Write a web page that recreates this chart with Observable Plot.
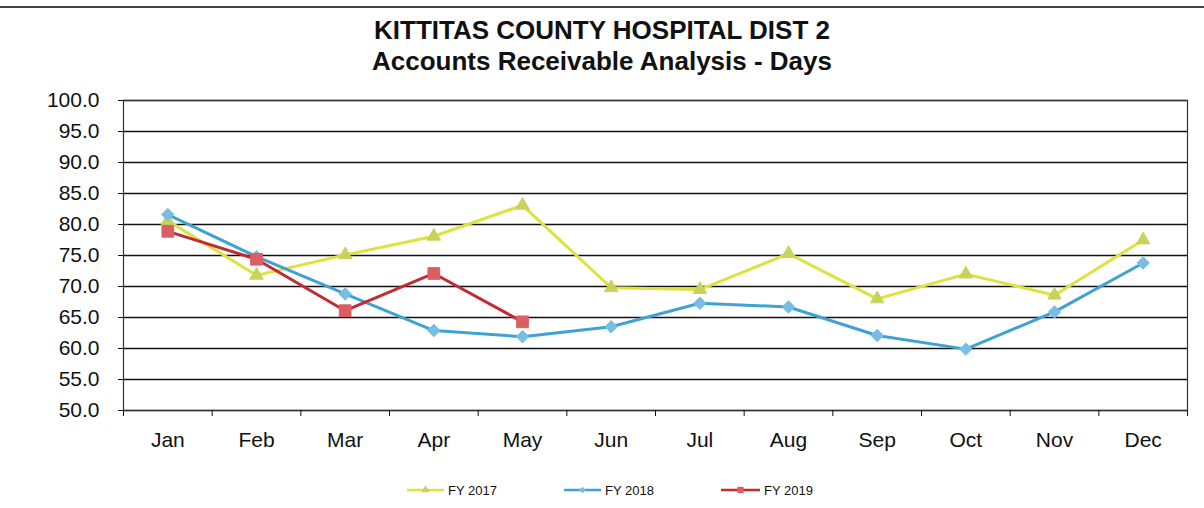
<!DOCTYPE html>
<html>
<head>
<meta charset="utf-8">
<script src="https://cdn.jsdelivr.net/npm/d3@7"></script>
<script src="https://cdn.jsdelivr.net/npm/@observablehq/plot@0.6"></script>
<style>
  html, body { margin: 0; padding: 0; background: #fff; }
  body { width: 1204px; height: 508px; position: relative; overflow: hidden; font-family: "Liberation Sans", Arial, sans-serif; color: #111; }
  #rule { position: absolute; left: 0; top: 6px; width: 1204px; height: 2px; background: #444; }
  #title { position: absolute; left: 0; top: 15px; width: 1204px; text-align: center; font-weight: bold; font-size: 26px; line-height: 31px; color: #111; }
  #chart { position: absolute; left: 0; top: 80px; }
  #legend { position: absolute; left: 0; top: 480px; width: 1204px; height: 20px; }
  .item { position: absolute; top: 0; height: 20px; display: flex; align-items: center; font-size: 13px; color: #111; }
  .item svg { margin-right: 4px; }
</style>
</head>
<body>
<div id="rule"></div>
<div id="title">KITTITAS COUNTY HOSPITAL DIST 2<br>Accounts Receivable Analysis - Days</div>
<div id="chart"></div>
<div id="legend"></div>
<script>
const months = ["Jan","Feb","Mar","Apr","May","Jun","Jul","Aug","Sep","Oct","Nov","Dec"];
const fy2017 = [80.6, 71.8, 75.1, 78.1, 83.1, 69.8, 69.5, 75.3, 68.0, 72.0, 68.6, 77.5];
const fy2018 = [81.6, 74.8, 68.8, 62.9, 61.9, 63.5, 67.3, 66.7, 62.1, 59.9, 65.9, 73.8];
const fy2019 = [78.9, 74.4, 66.1, 72.1, 64.3];
const seriesNames = ["FY 2017", "FY 2018", "FY 2019"];
const yTicks = [50, 55, 60, 65, 70, 75, 80, 85, 90, 95, 100];

const styles = {
  "FY 2017": {line: "#dde23c", fill: "#c9d25a", symbol: "triangle", r: 5},
  "FY 2018": {line: "#3ea3d2", fill: "#78bde3", symbol: "diamond2", r: 5.6},
  "FY 2019": {line: "#c42a32", fill: "#da5f63", symbol: "square", r: 6.6}
};
const valuesBySeries = {"FY 2017": fy2017, "FY 2018": fy2018, "FY 2019": fy2019};

const seriesMarks = seriesNames.flatMap(name => {
  const rows = valuesBySeries[name].map((v, i) => ({i: i + 0.5, value: v}));
  const s = styles[name];
  return [
    Plot.line(rows, {x: "i", y: "value", stroke: s.line, strokeWidth: 3}),
    Plot.dot(rows, {x: "i", y: "value", symbol: s.symbol, r: s.r, fill: s.fill, stroke: s.fill, strokeWidth: 1})
  ];
});

const chart = Plot.plot({
  width: 1204,
  height: 380,
  marginTop: 20,
  marginBottom: 50,
  marginLeft: 123,
  marginRight: 17,
  style: {fontFamily: "'Liberation Sans', Arial, sans-serif", fontSize: "21px", color: "#111", background: "transparent"},
  x: {type: "linear", domain: [0, 12]},
  y: {domain: [50, 100]},
  marks: [
    Plot.ruleY(yTicks, {stroke: "#111", strokeWidth: 1.4}),
    Plot.frame({stroke: "#333", strokeWidth: 1.2}),
    Plot.axisY({ticks: yTicks, tickFormat: d3.format(".1f"), tickSize: 5, tickPadding: 19, fontSize: 21, label: null}),
    Plot.axisX({ticks: d3.range(0, 13), tickFormat: () => "", tickSize: 6, label: null}),
    Plot.axisX({ticks: months.map((m, i) => i + 0.5), tickFormat: d => months[Math.floor(d)], tickSize: 0, tickPadding: 22, fontSize: 21, label: null}),
    ...seriesMarks
  ]
});
document.getElementById("chart").appendChild(chart);

// legend
const legendPos = {"FY 2017": 407, "FY 2018": 564, "FY 2019": 721};
const legend = d3.select("#legend");
seriesNames.forEach(name => {
  const s = styles[name];
  const item = legend.append("div").attr("class", "item").style("left", legendPos[name] + "px");
  const w = name === "FY 2019" ? 39 : 37;
  const svg = item.append("svg").attr("width", w).attr("height", 12);
  svg.append("line").attr("x1", 0).attr("x2", w).attr("y1", 6).attr("y2", 6)
    .attr("stroke", s.line).attr("stroke-width", 2.5);
  const sym = {triangle: d3.symbolTriangle, diamond2: d3.symbolDiamond2, square: d3.symbolSquare}[s.symbol];
  svg.append("path").attr("d", d3.symbol(sym, s.symbol === "square" ? 40 : 28)())
    .attr("transform", `translate(${w / 2},6)`).attr("fill", s.fill);
  item.append("span").text(name);
});
</script>
</body>
</html>
